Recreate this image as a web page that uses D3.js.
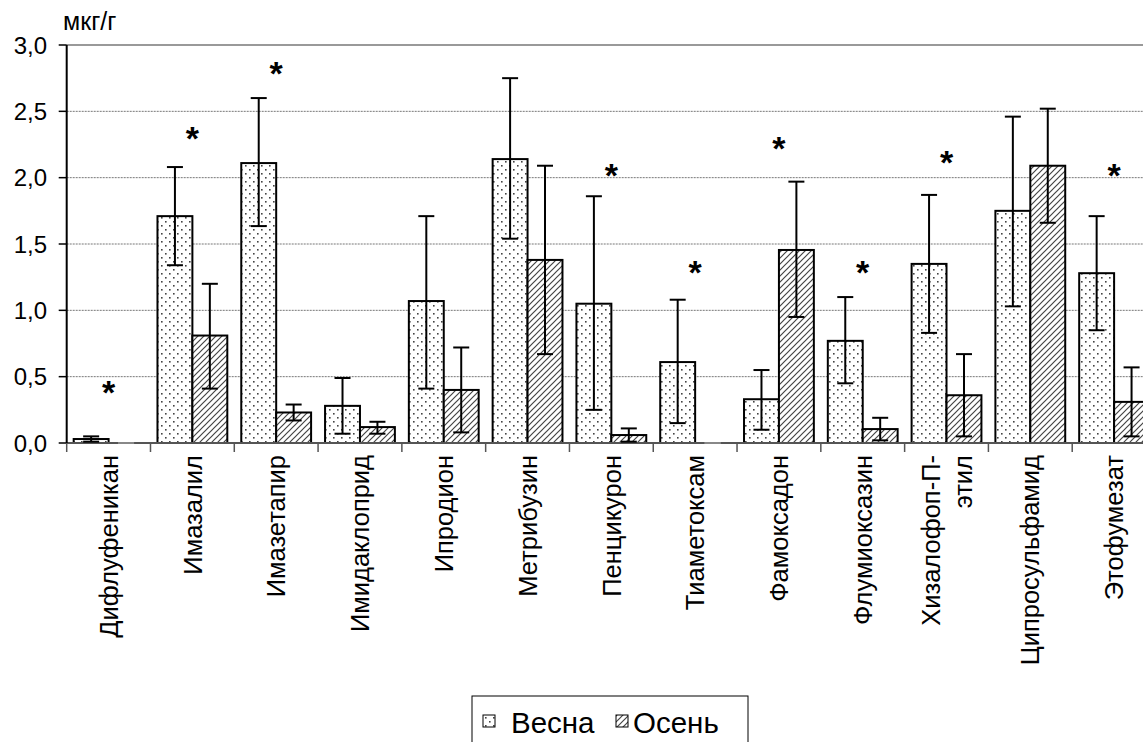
<!DOCTYPE html>
<html><head><meta charset="utf-8">
<script src="https://cdn.jsdelivr.net/npm/d3@7"></script>
<style>
html,body{margin:0;padding:0;background:#fff;}
svg{display:block;font-family:"Liberation Sans",Arial,sans-serif;}
</style></head>
<body>
<svg id="chart" width="1143" height="742"></svg>
<script>
const categories = ["Дифлуфеникан","Имазалил","Имазетапир","Имидаклоприд","Ипродион","Метрибузин","Пенцикурон","Тиаметоксам","Фамоксадон","Флумиоксазин","Хизалофоп-П-этил","Ципросульфамид","Этофумезат"];
const labelLines = [["Дифлуфеникан"],["Имазалил"],["Имазетапир"],["Имидаклоприд"],["Ипродион"],["Метрибузин"],["Пенцикурон"],["Тиаметоксам"],["Фамоксадон"],["Флумиоксазин"],["Хизалофоп-П-","этил"],["Ципросульфамид"],["Этофумезат"]];
const seriesNames = ["Весна","Осень"];
const spring     = [0.03,1.71,2.11,0.28,1.07,2.14,1.05,0.61,0.33,0.77,1.35,1.75,1.28];
const springHigh = [0.05,2.08,2.60,0.49,1.71,2.75,1.86,1.08,0.55,1.10,1.87,2.46,1.71];
const springLow  = [0.01,1.34,1.635,0.07,0.41,1.54,0.25,0.15,0.10,0.45,0.83,1.03,0.85];
const autumn     = [0.00,0.81,0.23,0.12,0.40,1.38,0.06,0.00,1.455,0.105,0.36,2.09,0.31];
const autumnHigh = [0.00,1.20,0.29,0.16,0.72,2.09,0.11,0.00,1.97,0.19,0.67,2.52,0.57];
const autumnLow  = [0.00,0.41,0.17,0.07,0.08,0.67,0.01,0.00,0.95,0.02,0.05,1.66,0.05];
const starValues = [0.45,2.37,2.86,null,null,null,2.09,1.36,2.29,1.36,2.19,null,2.09];
const yTicks = [0,0.5,1,1.5,2,2.5,3];
const unitLabel = "мкг/г";

(function(){
const svg = d3.select("#chart");
const defs = svg.append("defs");
const pd = defs.append("pattern").attr("id","dots").attr("patternUnits","userSpaceOnUse")
  .attr("width",8).attr("height",8);
pd.append("rect").attr("width",8).attr("height",8).attr("fill","#fff");
pd.append("rect").attr("x",1).attr("y",1).attr("width",1.6).attr("height",1.6).attr("fill","#444");
pd.append("rect").attr("x",5).attr("y",5).attr("width",1.6).attr("height",1.6).attr("fill","#444");
const ph = defs.append("pattern").attr("id","hatch").attr("patternUnits","userSpaceOnUse")
  .attr("width",6).attr("height",6);
ph.append("rect").attr("width",6).attr("height",6).attr("fill","#fff");
ph.append("path").attr("d","M-1,7 L7,-1 M-1,1 L1,-1 M5,7 L7,5").attr("stroke","#444").attr("stroke-width",1.2);

const pLeft = 66.7, pTop = 45, pBottom = 443, pRight = 1156;
const y = d3.scaleLinear().domain([0,3]).range([pBottom, pTop]);
const x = d3.scaleBand().domain(categories).range([pLeft, pRight]).paddingInner(0).paddingOuter(0);
const xs = d3.scaleBand().domain(seriesNames).range([0, x.bandwidth()]).paddingInner(0).paddingOuter(0.2);

svg.append("g").selectAll("line").data(yTicks.filter(t => t > 0 && t < 3)).join("line")
  .attr("x1", pLeft).attr("x2", pRight).attr("y1", d => y(d)).attr("y2", d => y(d))
  .attr("stroke","#777").attr("stroke-width",1).attr("stroke-dasharray","2,1");
svg.append("line").attr("x1",pLeft).attr("x2",pRight).attr("y1",y(3)).attr("y2",y(3))
  .attr("stroke","#999").attr("stroke-width",2);

const pats = {"Весна":"url(#dots)","Осень":"url(#hatch)"};
const vals = {"Весна":spring,"Осень":autumn};
const highs = {"Весна":springHigh,"Осень":autumnHigh};
const lows = {"Весна":springLow,"Осень":autumnLow};
const gBars = svg.append("g");
seriesNames.forEach(s => {
  const data = categories.map((c,i) => ({c, v: vals[s][i]}));
  gBars.selectAll(null).data(data.filter(d => d.v > 0)).join("rect")
    .attr("x", d => x(d.c) + xs(s)).attr("width", xs.bandwidth())
    .attr("y", d => y(d.v)).attr("height", d => y(0) - y(d.v))
    .attr("fill", pats[s]).attr("stroke","#000").attr("stroke-width",2);
});
svg.append("line").attr("x1",pLeft).attr("x2",pRight).attr("y1",y(0)).attr("y2",y(0))
  .attr("stroke","#555").attr("stroke-width",2);
const gErr = svg.append("g").attr("stroke","#000").attr("stroke-width",2);
seriesNames.forEach(s => {
  const data = categories.map((c,i) => ({c, v: vals[s][i], hi: highs[s][i], lo: lows[s][i]}));
  const cx = d => x(d.c) + xs(s) + xs.bandwidth()/2;
  gErr.selectAll(null).data(data).join("line")
    .attr("x1", cx).attr("x2", cx).attr("y1", d => y(d.hi)).attr("y2", d => y(d.lo));
  gErr.selectAll(null).data(data).join("line")
    .attr("x1", d => cx(d)-8).attr("x2", d => cx(d)+8).attr("y1", d => y(d.hi)).attr("y2", d => y(d.hi))
    .attr("stroke", d => d.hi === 0 ? "#888" : "#000");
  gErr.selectAll(null).data(data).join("line")
    .attr("x1", d => cx(d)-8).attr("x2", d => cx(d)+8).attr("y1", d => y(d.lo)).attr("y2", d => y(d.lo))
    .attr("stroke", d => d.lo === 0 ? "#888" : "#000");
});

svg.append("line").attr("x1",pLeft).attr("x2",pLeft).attr("y1",pTop).attr("y2",pBottom)
  .attr("stroke","#000").attr("stroke-width",2);
const gy = svg.append("g");
gy.selectAll("line").data(yTicks).join("line")
  .attr("x1", pLeft-8).attr("x2", pLeft).attr("y1", d => y(d)).attr("y2", d => y(d))
  .attr("stroke","#000").attr("stroke-width",1.5);
gy.selectAll("text").data(yTicks).join("text")
  .attr("x", 47).attr("y", d => y(d)).attr("dy","0.36em").attr("text-anchor","end")
  .attr("font-size",24).attr("fill","#000")
  .text(d => d3.format(".1f")(d).replace(".",","));
svg.append("text").attr("x",63).attr("y",30).attr("font-size",25).text(unitLabel);

const bounds = categories.map(c => x(c)).concat([pRight]);
svg.append("g").selectAll("line").data(bounds).join("line")
  .attr("x1", d => d).attr("x2", d => d).attr("y1", pBottom).attr("y2", pBottom+9)
  .attr("stroke","#555").attr("stroke-width",1.5);
const gl = svg.append("g");
categories.forEach((c,i) => {
  const lines = labelLines[i];
  const cx = x(c) + x.bandwidth()/2;
  lines.forEach((ln, j) => {
    const off = (j - (lines.length-1)/2) * 32;
    gl.append("text").attr("transform", `translate(${cx + off},${pBottom+12}) rotate(-90)`)
      .attr("text-anchor","end").attr("dy","0.36em").attr("font-size",25.5).text(ln);
  });
});

svg.append("g").selectAll("text").data(categories.map((c,i)=>({c, v: starValues[i]})).filter(d => d.v !== null))
  .join("text").attr("x", d => x(d.c) + x.bandwidth()/2).attr("y", d => y(d.v))
  .attr("dy","0.62em").attr("text-anchor","middle").attr("font-size",34).attr("font-weight","bold").text("*");

const lg = svg.append("g");
lg.append("rect").attr("x",472).attr("y",696).attr("width",276).attr("height",80)
  .attr("fill","#fff").attr("stroke","#000").attr("stroke-width",1);
const legItems = [{s:"Весна", sx:483, tx:511},{s:"Осень", sx:616, tx:633}];
legItems.forEach(it => {
  lg.append("rect").attr("x",it.sx).attr("y",715).attr("width",12).attr("height",12)
    .attr("fill", pats[it.s]).attr("stroke","#000").attr("stroke-width",1);
  lg.append("text").attr("x",it.tx).attr("y",733).attr("font-size",29.5).text(it.s);
});
})();
</script>
</body></html>
